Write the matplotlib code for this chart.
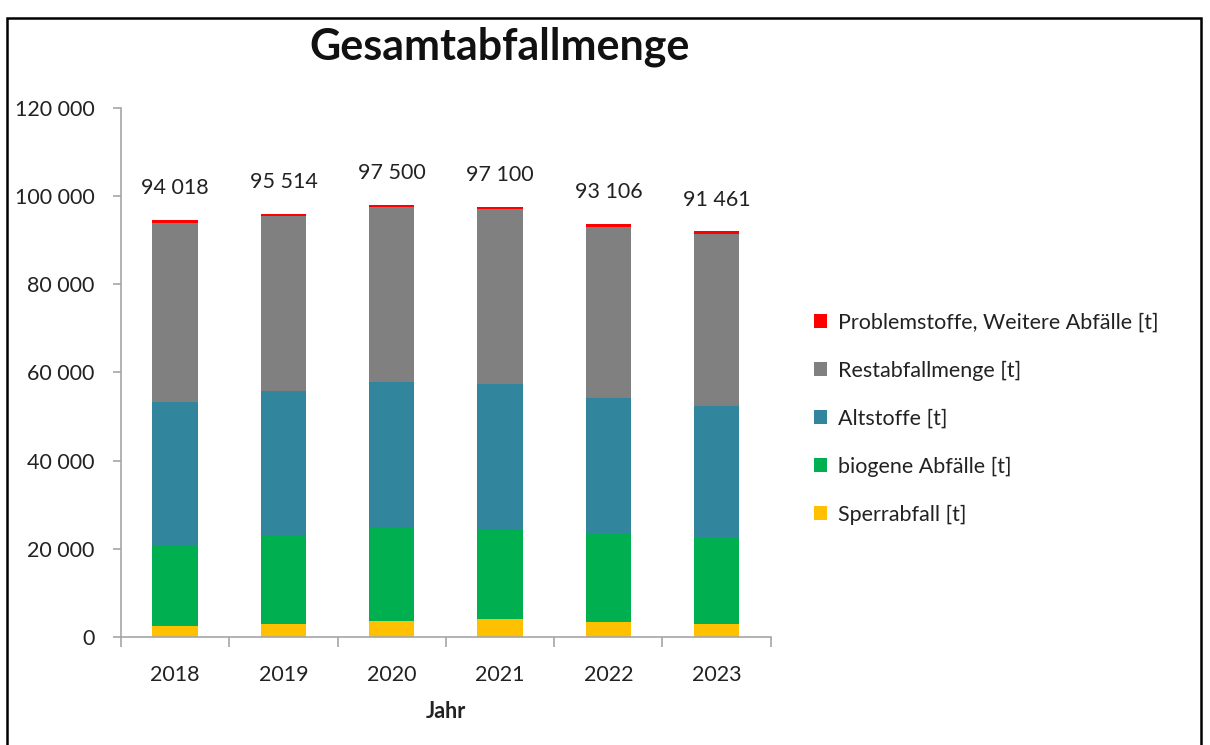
import matplotlib
matplotlib.use('Agg')
import matplotlib.pyplot as plt
import numpy as np
from matplotlib.patches import Rectangle

years = ['2018', '2019', '2020', '2021', '2022', '2023']
sperrabfall = [2600, 3000, 3600, 4000, 3500, 3000]
biogen = [18000, 20000, 21200, 20300, 19900, 19600]
altstoffe = [32800, 32700, 33100, 33100, 30900, 29900]
restabfall = [40600, 39800, 39600, 39700, 38800, 39000]
problemstoffe = [550, 500, 550, 500, 500, 500]
totals = [94018, 95514, 97500, 97100, 93106, 91461]

series = [
    ('Sperrabfall [t]', sperrabfall, '#FFC000'),
    ('biogene Abfälle [t]', biogen, '#00B050'),
    ('Altstoffe [t]', altstoffe, '#31859C'),
    ('Restabfallmenge [t]', restabfall, '#808080'),
    ('Problemstoffe, Weitere Abfälle [t]', problemstoffe, '#FF0000'),
]

plt.rcParams['font.family'] = ['Lato', 'DejaVu Sans']
fs = 15.5

fig = plt.figure(figsize=(12.1, 7.45), dpi=100)
ax = fig.add_axes([0.1, 0.145, 0.537, 0.71])

x = np.arange(len(years))
bottom = np.zeros(len(years))
handles = []
for name, vals, col in series:
    h = ax.bar(x, vals, 0.42, bottom=bottom, color=col, label=name, edgecolor='none')
    handles.append(h)
    bottom += np.asarray(vals)

for i, t in enumerate(totals):
    ax.annotate('{:,}'.format(t).replace(',', ' '), (x[i], bottom[i]),
                xytext=(0, 23), textcoords='offset points',
                ha='center', va='center', fontsize=fs, color='#222222')

ax.set_xlim(-0.5, len(years) - 0.5)
ax.set_ylim(0, 120000)
ax.set_yticks(np.arange(0, 120001, 20000))
ax.set_yticklabels(['{:,}'.format(v).replace(',', ' ') for v in range(0, 120001, 20000)])
ax.set_xticks(x)
ax.set_xticklabels(years)
ax.set_xticks(np.arange(-0.5, len(years)), minor=True)
ax.tick_params(axis='x', which='major', length=0, pad=20, labelsize=fs, labelcolor='#222222')
ax.tick_params(axis='x', which='minor', length=7, color='#A6A6A6', width=1.2)
ax.tick_params(axis='y', length=6, color='#A6A6A6', width=1.2, pad=13, labelsize=fs, labelcolor='#222222')

for s in ['top', 'right']:
    ax.spines[s].set_visible(False)
for s in ['left', 'bottom']:
    ax.spines[s].set_color('#A6A6A6')
    ax.spines[s].set_linewidth(1.2)

ax.set_xlabel('Jahr', fontsize=fs, fontweight='bold', labelpad=12, color='#222222')

fig.text(0.413, 0.937, 'Gesamtabfallmenge', ha='center', va='center',
         fontsize=31, fontweight='bold', color='#111111')

leg = fig.legend(handles[::-1], [s[0] for s in series][::-1],
                 loc='center left', bbox_to_anchor=(0.657, 0.438),
                 frameon=False, fontsize=fs, handlelength=0.6, handleheight=0.6,
                 handletextpad=0.5, labelspacing=1.3)
for t in leg.get_texts():
    t.set_color('#222222')

# outer frame
fig.patches.append(Rectangle((7 / 1210, -0.02), 1194 / 1210, 0.008 + (745 - 9) / 745,
                             transform=fig.transFigure, fill=False,
                             edgecolor='black', linewidth=1.8))

plt.savefig('out.png', dpi=100)
plt.close()
